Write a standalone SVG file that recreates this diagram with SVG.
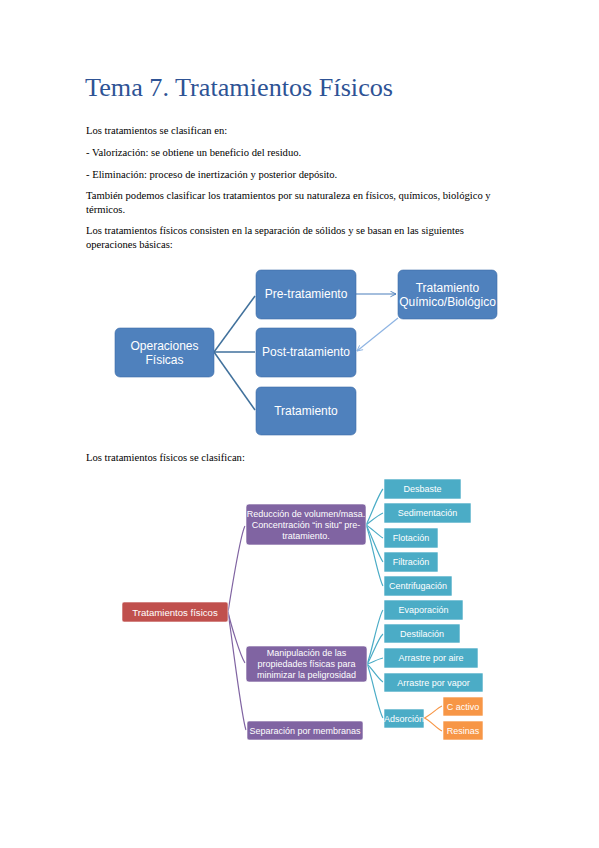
<svg xmlns="http://www.w3.org/2000/svg" width="599" height="848" viewBox="0 0 599 848">
<defs>
<style>
.body{font-family:"Liberation Serif","Times New Roman",serif;font-size:10.6px;fill:#000}
.title{font-family:"Liberation Serif","Times New Roman",serif;font-size:26.2px;fill:#2E5395}
.n1{fill:#4F81BD;stroke:#3E6DA8;stroke-width:0.6}
.t1{font-family:"Liberation Sans",Arial,sans-serif;font-size:12px;fill:#fff;text-anchor:middle}
.t2{font-family:"Liberation Sans",Arial,sans-serif;font-size:9px;fill:#fff;text-anchor:middle}
.red{fill:#C0504D;stroke:#fff;stroke-width:0.6}
.pur{fill:#8064A2;stroke:#fff;stroke-width:0.6}
.teal{fill:#4BACC6;stroke:#fff;stroke-width:0.6}
.org{fill:#F79646;stroke:#fff;stroke-width:0.6}
.c1{stroke:#41719C;stroke-width:1.5;fill:none}
.cp{stroke:#8064A2;stroke-width:1.2;fill:none}
.ct{stroke:#4BACC6;stroke-width:1.2;fill:none}
.co{stroke:#F79646;stroke-width:1.2;fill:none}
</style>
<marker id="ah" viewBox="0 0 10 10" refX="9" refY="5" markerWidth="7" markerHeight="7" orient="auto" markerUnits="userSpaceOnUse">
<path d="M1,1 L9,5 L1,9" fill="none" stroke="#4A7EBB" stroke-width="1.3"/>
</marker>
<marker id="ah2" viewBox="0 0 10 10" refX="9" refY="5" markerWidth="7" markerHeight="7" orient="auto" markerUnits="userSpaceOnUse">
<path d="M1,1 L9,5 L1,9" fill="none" stroke="#8EB4E3" stroke-width="1.3"/>
</marker>
</defs>

<g id="texts">
<text class="title" x="85" y="96">Tema 7. Tratamientos Físicos</text>
<text class="body" x="86" y="134">Los tratamientos se clasifican en:</text>
<text class="body" x="86" y="156">- Valorización: se obtiene un beneficio del residuo.</text>
<text class="body" x="86" y="178">- Eliminación: proceso de inertización y posterior depósito.</text>
<text class="body" x="86" y="199">También podemos clasificar los tratamientos por su naturaleza en físicos, químicos, biológico y</text>
<text class="body" x="86" y="213">térmicos.</text>
<text class="body" x="86" y="234">Los tratamientos físicos consisten en la separación de sólidos y se basan en las siguientes</text>
<text class="body" x="86" y="248">operaciones básicas:</text>
<text class="body" x="86" y="461">Los tratamientos físicos se clasifican:</text>
</g>

<g id="connectors1">
<path class="c1" d="M214,352 L255,296"/>
<path class="c1" d="M214,352 L255,352"/>
<path class="c1" d="M214,352 L255,410"/>
<path d="M356,294 L396,294" stroke="#4A7EBB" stroke-width="1.2" fill="none" marker-end="url(#ah)"/>
<path d="M398,318 L357,351" stroke="#8EB4E3" stroke-width="1.2" fill="none" marker-end="url(#ah2)"/>
</g>

<g id="op">
<rect class="n1" x="115" y="328" width="99" height="49" rx="5"/>
<text class="t1" x="164.5" y="350">Operaciones</text>
<text class="t1" x="164.5" y="364">Físicas</text>
</g>
<g id="pre">
<rect class="n1" x="256" y="270" width="100" height="49" rx="5"/>
<text class="t1" x="306" y="298">Pre-tratamiento</text>
</g>
<g id="post">
<rect class="n1" x="256" y="328" width="100" height="49" rx="5"/>
<text class="t1" x="306" y="356">Post-tratamiento</text>
</g>
<g id="trat">
<rect class="n1" x="256" y="387" width="100" height="48" rx="5"/>
<text class="t1" x="306" y="415">Tratamiento</text>
</g>
<g id="quim">
<rect class="n1" x="398" y="270" width="99" height="49" rx="5"/>
<text class="t1" x="447.5" y="292">Tratamiento</text>
<text class="t1" x="447.5" y="306">Químico/Biológico</text>
</g>

<g id="connectors2">
<path class="cp" d="M228,612 C230,600 240,535 245,526"/>
<path class="cp" d="M228,612 C231,625 240,655 245,663"/>
<path class="cp" d="M228,612 C231,630 241,715 246,730"/>
<path class="ct" d="M366,525 C370,518 378,495 383,489"/>
<path class="ct" d="M366,525 C370,522 378,515 383,513"/>
<path class="ct" d="M366,525 C370,527 378,535 383,538"/>
<path class="ct" d="M366,525 C370,531 378,555 383,562"/>
<path class="ct" d="M366,525 C370,533 378,578 383,586"/>
<path class="ct" d="M367,664 C371,656 378,617 383,610"/>
<path class="ct" d="M367,664 C371,659 378,638 383,634"/>
<path class="ct" d="M367,664 C371,663 378,659 383,658"/>
<path class="ct" d="M367,664 C371,667 378,679 383,682"/>
<path class="ct" d="M367,664 C371,672 378,710 383,718"/>
<path class="co" d="M424,718 C430,716 437,708 442,706"/>
<path class="co" d="M424,718 C430,720 437,729 442,731"/>
</g>

<g id="tf">
<rect class="red" x="122" y="602" width="106" height="20" rx="2"/>
<text class="t2" x="175" y="615.5" style="font-size:9.6px">Tratamientos físicos</text>
</g>
<g id="reduccion">
<rect class="pur" x="246" y="504" width="120" height="41" rx="3"/>
<text class="t2" x="306" y="517">Reducción de volumen/masa.</text>
<text class="t2" x="306" y="528">Concentración “in situ” pre-</text>
<text class="t2" x="306" y="539">tratamiento.</text>
</g>
<g id="manipulacion">
<rect class="pur" x="246" y="646" width="121" height="36" rx="3"/>
<text class="t2" x="306.5" y="656">Manipulación de las</text>
<text class="t2" x="306.5" y="667">propiedades físicas para</text>
<text class="t2" x="306.5" y="678">minimizar la peligrosidad</text>
</g>
<g id="separacion">
<rect class="pur" x="247" y="721" width="116" height="19" rx="2"/>
<text class="t2" x="305" y="734">Separación por membranas</text>
</g>
<g id="desbaste">
<rect class="teal" x="384" y="479" width="77" height="20"/>
<text class="t2" x="422.5" y="492">Desbaste</text>
</g>
<g id="sedimentacion">
<rect class="teal" x="384" y="503" width="87" height="20"/>
<text class="t2" x="427.5" y="516">Sedimentación</text>
</g>
<g id="flotacion">
<rect class="teal" x="384" y="528" width="54" height="20"/>
<text class="t2" x="411" y="541">Flotación</text>
</g>
<g id="filtracion">
<rect class="teal" x="384" y="552" width="54" height="20"/>
<text class="t2" x="411" y="565">Filtración</text>
</g>
<g id="centrifugacion">
<rect class="teal" x="384" y="576" width="68" height="20"/>
<text class="t2" x="418" y="589">Centrifugación</text>
</g>
<g id="evaporacion">
<rect class="teal" x="384" y="600" width="79" height="20"/>
<text class="t2" x="423.5" y="613">Evaporación</text>
</g>
<g id="destilacion">
<rect class="teal" x="384" y="624" width="76" height="19"/>
<text class="t2" x="422" y="637">Destilación</text>
</g>
<g id="aire">
<rect class="teal" x="384" y="648" width="94" height="20"/>
<text class="t2" x="431" y="661">Arrastre por aire</text>
</g>
<g id="vapor">
<rect class="teal" x="384" y="673" width="99" height="19"/>
<text class="t2" x="433.5" y="686">Arrastre por vapor</text>
</g>
<g id="adsorcion">
<rect class="teal" x="384" y="709" width="40" height="19"/>
<text class="t2" x="404" y="722">Adsorción</text>
</g>
<g id="cactivo">
<rect class="org" x="443" y="697" width="40" height="19"/>
<text class="t2" x="463" y="710">C activo</text>
</g>
<g id="resinas">
<rect class="org" x="443" y="721" width="40" height="19"/>
<text class="t2" x="463" y="734">Resinas</text>
</g>
</svg>
